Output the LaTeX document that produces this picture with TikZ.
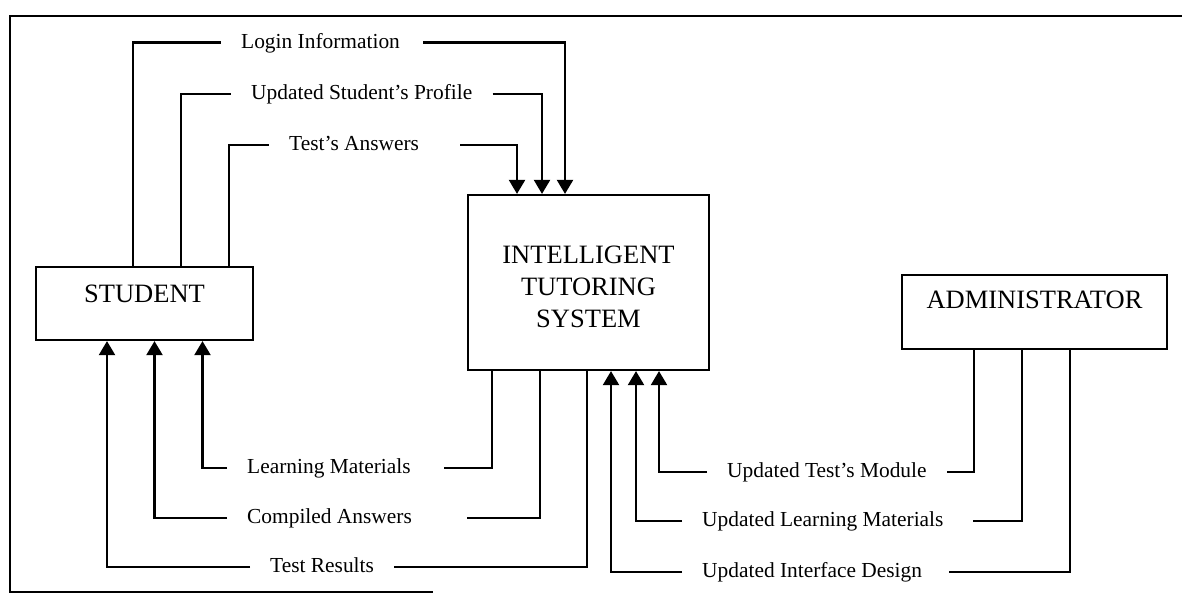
\documentclass[tikz,border=0pt]{standalone}
\usepackage{fontspec}
\setmainfont{Liberation Serif}
\usetikzlibrary{arrows.meta}

\begin{document}
\begin{tikzpicture}[x=1pt,y=-1pt,
  wire/.style={line width=2.2pt},
  flowarrow/.style={wire,-{Triangle[width=16pt,length=14pt]}},
  entity/.style={draw,line width=2.2pt,inner sep=0pt},
  flowlabel/.style={inner xsep=20pt,inner ysep=0pt,anchor=west,
    text height=16pt,text depth=4.3pt,
    font=\fontsize{21.4pt}{25pt}\selectfont},
  boxtext/.style={font=\fontsize{26.5pt}{32pt}\selectfont,align=center,inner sep=0pt}
]
\useasboundingbox (0,0) rectangle (1182,594);

% page frame
\draw[wire] (1182,16) -- (10,16) -- (10,592) -- (433,592);

% external entities and the system
\node[entity,minimum width=217pt,minimum height=73pt,
  label={[boxtext,yshift=9.5pt]center:STUDENT}] (student) at (144.5,303.5) {};
\node[entity,minimum width=241pt,minimum height=175pt,
  label={[boxtext,yshift=-4.5pt]center:INTELLIGENT\\TUTORING\\SYSTEM}] (its) at (588.5,282.5) {};
\node[entity,minimum width=265pt,minimum height=74pt,
  label={[boxtext,yshift=12pt]center:ADMINISTRATOR}] (admin) at (1034.5,312) {};

% data flow labels
\node[flowlabel] (login)    at (221,42.5) {Login Information};
\node[flowlabel] (profile)  at (231,94)   {Updated Student’s Profile};
\node[flowlabel] (answers)  at (269,145)  {Test’s Answers};
\node[flowlabel] (learning) at (227,468)  {Learning Materials};
\node[flowlabel] (compiled) at (227,518)  {Compiled Answers};
\node[flowlabel] (results)  at (250,567)  {Test Results};
\node[flowlabel] (testmod)  at (707,472)  {Updated Test’s Module};
\node[flowlabel] (updlearn) at (682,521)  {Updated Learning Materials};
\node[flowlabel] (design)   at (682,572)  {Updated Interface Design};

% student -> system
\draw[wire] ([xshift=-11.5pt]student.north) |- (login.west);
\draw[flowarrow] ([xshift=3pt]login.east) -| ([xshift=-23.5pt]its.north);
\draw[wire] ([xshift=36.5pt]student.north) |- (profile.west);
\draw[flowarrow] (profile.east) -| ([xshift=-46.5pt]its.north);
\draw[wire] ([xshift=84.5pt]student.north) |- (answers.west);
\draw[flowarrow] ([xshift=21pt]answers.east) -| ([xshift=-71.5pt]its.north);

% system -> student
\draw[wire] ([xshift=-96.5pt]its.south) |- ([xshift=13pt]learning.east);
\draw[flowarrow] (learning.west) -| ([xshift=58pt]student.south);
\draw[wire] ([xshift=-48.5pt]its.south) |- ([xshift=35pt]compiled.east);
\draw[flowarrow] (compiled.west) -| ([xshift=10pt]student.south);
\draw[wire] ([xshift=-1.5pt]its.south) |- (results.east);
\draw[flowarrow] (results.west) -| ([xshift=-37.5pt]student.south);

% administrator -> system
\draw[wire] ([xshift=-60.5pt]admin.south) |- (testmod.east);
\draw[flowarrow] (testmod.west) -| ([xshift=70.5pt]its.south);
\draw[wire] ([xshift=-12.5pt]admin.south) |- ([xshift=9pt]updlearn.east);
\draw[flowarrow] (updlearn.west) -| ([xshift=47.5pt]its.south);
\draw[wire] ([xshift=35.5pt]admin.south) |- ([xshift=7pt]design.east);
\draw[flowarrow] (design.west) -| ([xshift=22.5pt]its.south);
\end{tikzpicture}
\end{document}
